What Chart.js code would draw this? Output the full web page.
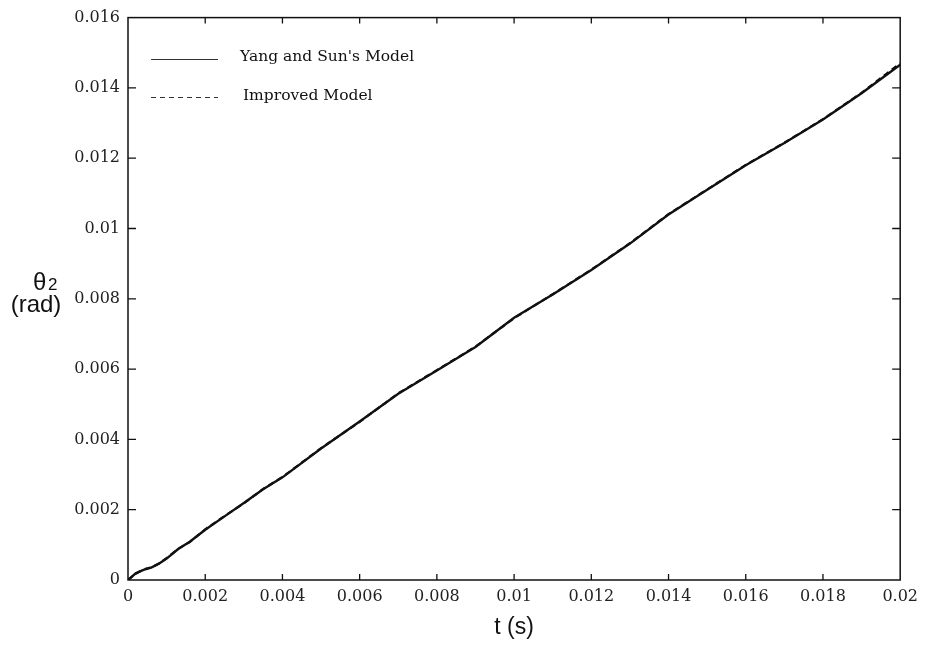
<!DOCTYPE html>
<html>
<head>
<meta charset="utf-8">
<script src="https://cdn.jsdelivr.net/npm/chart.js@4.4.1/dist/chart.umd.min.js"></script>
<style>
  html, body { margin: 0; padding: 0; background: #ffffff; }
  #wrap { position: relative; width: 925px; height: 653px; }
</style>
</head>
<body>
<div id="wrap"><canvas id="c"></canvas></div>
<script>
// ---- data ----
const timeValues = [0, 0.0002, 0.0004, 0.0006, 0.0008, 0.001, 0.0013, 0.0016, 0.002, 0.0025, 0.003, 0.0035, 0.004,
  0.005, 0.006, 0.007, 0.008, 0.009, 0.010, 0.011, 0.012, 0.013, 0.014, 0.015, 0.016, 0.017, 0.018, 0.019, 0.020];
const yangSunModel = [0, 0.00019, 0.00029, 0.00035, 0.00046, 0.00061, 0.00088, 0.00109, 0.00143, 0.00181, 0.00219, 0.00258, 0.00292,
  0.00374, 0.00451, 0.00530, 0.00596, 0.00663, 0.00746, 0.00812, 0.00882, 0.00957, 0.01040, 0.01110, 0.01180, 0.01243, 0.01310, 0.01385, 0.01466];
const improvedModel = [0, 0.00018, 0.00030, 0.00036, 0.00047, 0.00062, 0.00089, 0.00108, 0.00144, 0.00182, 0.00218, 0.00259, 0.00293,
  0.00375, 0.00450, 0.00531, 0.00597, 0.00664, 0.00745, 0.00813, 0.00883, 0.00958, 0.01041, 0.01111, 0.01181, 0.01244, 0.01311, 0.01386, 0.01470];
const xTickValues = [0, 0.002, 0.004, 0.006, 0.008, 0.01, 0.012, 0.014, 0.016, 0.018, 0.02];
const xTickLabels = ['0', '0.002', '0.004', '0.006', '0.008', '0.01', '0.012', '0.014', '0.016', '0.018', '0.02'];
const yTickValues = [0, 0.002, 0.004, 0.006, 0.008, 0.01, 0.012, 0.014, 0.016];
const yTickLabels = ['0', '0.002', '0.004', '0.006', '0.008', '0.01', '0.012', '0.014', '0.016'];
const seriesNames = ["Yang and Sun's Model", 'Improved Model'];
const xTitle = 't (s)';
const yTitleSymbol = 'θ';
const yTitleIndex = '2';
const yTitleUnit = '(rad)';

const serif = '"DejaVu Serif", "Liberation Serif", serif';
const sans = '"Liberation Sans", Arial, sans-serif';

const framePlugin = {
  id: 'frame',
  afterDraw(chart) {
    const ctx = chart.ctx;
    const a = chart.chartArea;
    const xs = chart.scales.x, ys = chart.scales.y;
    ctx.save();
    ctx.strokeStyle = '#111';
    ctx.lineWidth = 1.5;
    ctx.strokeRect(a.left, a.top, a.right - a.left, a.bottom - a.top);
    ctx.lineWidth = 1.3;
    ctx.beginPath();
    xTickValues.forEach(v => {
      const px = xs.getPixelForValue(v);
      if (v !== xs.min && v !== xs.max) {
        ctx.moveTo(px, a.bottom); ctx.lineTo(px, a.bottom - 6);
        ctx.moveTo(px, a.top); ctx.lineTo(px, a.top + 6);
      }
    });
    yTickValues.forEach(v => {
      const py = ys.getPixelForValue(v);
      if (v !== ys.min && v !== ys.max) {
        ctx.moveTo(a.left, py); ctx.lineTo(a.left + 8, py);
        ctx.moveTo(a.right, py); ctx.lineTo(a.right - 8, py);
      }
    });
    ctx.stroke();

    // legend
    ctx.lineWidth = 1;
    ctx.strokeStyle = '#333';
    ctx.beginPath();
    ctx.moveTo(151, 59.5); ctx.lineTo(218, 59.5);
    ctx.stroke();
    ctx.setLineDash([5, 4]);
    ctx.beginPath();
    ctx.moveTo(151, 97.5); ctx.lineTo(218, 97.5);
    ctx.stroke();
    ctx.setLineDash([]);
    ctx.fillStyle = '#111';
    ctx.font = '15.5px ' + serif;
    ctx.textAlign = 'left';
    ctx.textBaseline = 'middle';
    ctx.fillText(seriesNames[0], 240, 57);
    ctx.fillText(seriesNames[1], 243, 96);

    // axis titles
    ctx.font = '23px ' + sans;
    ctx.textAlign = 'center';
    ctx.textBaseline = 'middle';
    ctx.fillText(xTitle, (a.left + a.right) / 2, 628);
    ctx.textBaseline = 'alphabetic';
    ctx.font = '24px ' + sans;
    ctx.textAlign = 'left';
    ctx.fillText(yTitleSymbol, 33, 290);
    ctx.font = '17px ' + sans;
    ctx.fillText(yTitleIndex, 48, 290);
    ctx.font = '24px ' + sans;
    ctx.textAlign = 'center';
    ctx.fillText(yTitleUnit, 36, 312);
    ctx.restore();
  }
};

new Chart(document.getElementById('c'), {
  type: 'line',
  data: {
    datasets: [
      {
        label: seriesNames[0],
        data: timeValues.map((t, i) => ({ x: t, y: yangSunModel[i] })),
        borderColor: '#111',
        borderWidth: 2.4,
        pointRadius: 0,
        tension: 0,
        fill: false
      },
      {
        label: seriesNames[1],
        data: timeValues.map((t, i) => ({ x: t, y: improvedModel[i] })),
        borderColor: '#000',
        borderWidth: 2.2,
        borderDash: [6, 4],
        pointRadius: 0,
        tension: 0,
        fill: false
      }
    ]
  },
  plugins: [framePlugin],
  options: {
    responsive: true,
    maintainAspectRatio: false,
    animation: false,
    layout: { padding: { top: 16, right: 22, bottom: 0, left: 0 } },
    plugins: { legend: { display: false }, tooltip: { enabled: false } },
    scales: {
      x: {
        type: 'linear',
        min: 0,
        max: 0.02,
        afterBuildTicks: s => { s.ticks = xTickValues.map(v => ({ value: v })); },
        afterFit: s => { s.height = 73; },
        ticks: {
          callback: (v, i) => xTickLabels[i],
          font: { family: serif, size: 16 },
          color: '#222',
          padding: 7,
          maxRotation: 0,
          autoSkip: false
        },
        grid: { display: false, drawTicks: false },
        border: { display: false }
      },
      y: {
        type: 'linear',
        min: 0,
        max: 0.016,
        afterBuildTicks: s => { s.ticks = yTickValues.map(v => ({ value: v })); },
        afterFit: s => { s.width = 128; },
        ticks: {
          callback: (v, i) => yTickLabels[i],
          font: { family: serif, size: 16 },
          color: '#222',
          padding: 8,
          autoSkip: false
        },
        grid: { display: false, drawTicks: false },
        border: { display: false }
      }
    }
  }
});
</script>
</body>
</html>
